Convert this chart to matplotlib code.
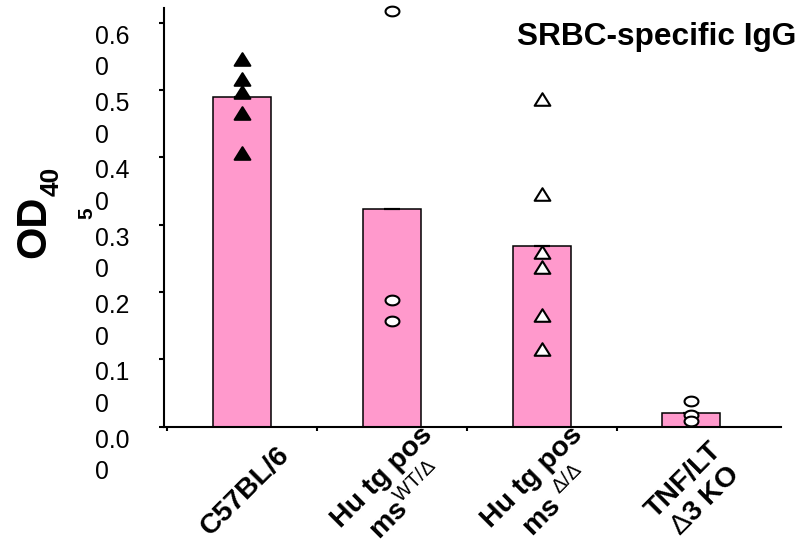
import numpy as np
import matplotlib
matplotlib.use("Agg")
import matplotlib.pyplot as plt
from matplotlib.path import Path
from matplotlib import transforms

plt.rcParams["font.family"] = ["Liberation Sans", "DejaVu Sans"]
plt.rcParams["mathtext.fontset"] = "custom"
plt.rcParams["mathtext.rm"] = "Liberation Sans"

# ---- data -------------------------------------------------------------
groups = ["C57BL/6",
          "Hu tg pos\nms$^{\\rm WT/\\Delta}$",
          "Hu tg pos\nms $^{\\rm \\Delta/\\Delta}$",
          "TNF/LT\n$\\rm\\Delta$3 KO"]
bar_means = [0.489, 0.324, 0.269, 0.020]
wt_points = [0.546, 0.517, 0.497, 0.466, 0.406]              # C57BL/6
het_points = [0.617, 0.188, 0.157]                          # Hu tg pos ms WT/Δ
hom_points = [0.487, 0.346, 0.259, 0.237, 0.166, 0.115]     # Hu tg pos ms Δ/Δ
ko_points = [0.0375, 0.018, 0.008]                          # TNF/LT Δ3 KO
ytick_vals = [0.0, 0.1, 0.2, 0.3, 0.4, 0.5, 0.6]
ytick_text = ["0.0\n0", "0.1\n0", "0.2\n0", "0.3\n0", "0.4\n0", "0.5\n0", "0.6\n0"]
title = "SRBC-specific IgG"

# ---- figure -----------------------------------------------------------
W, H = 802, 546
fig = plt.figure(figsize=(W / 100, H / 100), dpi=100)


def fx(px):
    return px / W


def fy(py):
    return 1 - py / H


ax_left, ax_right, ax_bottom, ax_top = 164.3, 780.7, 426.7, 8.3
ax = fig.add_axes([fx(ax_left), fy(ax_bottom),
                   (ax_right - ax_left) / W, (ax_bottom - ax_top) / H])

x = np.arange(len(groups))
ax.set_xlim(-0.519, 3.596)
ax.set_ylim(0, 0.6214)

pink = "#FF99CC"
ax.bar(x, bar_means, width=0.387, color=pink, edgecolor="black",
       linewidth=1.1, zorder=2)
ax.errorbar(x, bar_means, yerr=np.zeros(len(x)), fmt="none", ecolor="black",
            capsize=6, capthick=1.5, elinewidth=0, zorder=3)

# marker shapes: slightly flattened triangle and ellipse
tri = Path([(-1, -0.8), (1, -0.8), (0, 0.8), (-1, -0.8)],
           [Path.MOVETO, Path.LINETO, Path.LINETO, Path.CLOSEPOLY])
t = np.linspace(0, 2 * np.pi, 60)
ell = Path(np.column_stack([np.cos(t), 0.7 * np.sin(t)]), closed=True)

common = dict(linestyle="none", markeredgewidth=1.5, clip_on=False, zorder=4)
ax.plot([x[0]] * len(wt_points), wt_points, marker=tri, markersize=11.3,
        markerfacecolor="black", markeredgecolor="black", **common)
ax.plot([x[1]] * len(het_points), het_points, marker=ell, markersize=10,
        markerfacecolor="white", markeredgecolor="black", **common)
ax.plot([x[2]] * len(hom_points), hom_points, marker=tri, markersize=11.3,
        markerfacecolor="white", markeredgecolor="black", **common)
ax.plot([x[3]] * len(ko_points), ko_points, marker=ell, markersize=10,
        markerfacecolor="white", markeredgecolor="black", **common)

# axes styling
for side in ("top", "right"):
    ax.spines[side].set_visible(False)
for side in ("left", "bottom"):
    ax.spines[side].set_linewidth(1.5)

ax.set_yticks(ytick_vals)
ax.set_yticklabels(ytick_text, fontsize=17.8, va="top", ha="right",
                   multialignment="left", linespacing=1.4)
ax.tick_params(axis="y", direction="out", length=3.6, width=1.5, pad=21.4)
shift = transforms.ScaledTranslation(0, -2 / 100, fig.dpi_scale_trans)
for lab in ax.get_yticklabels():
    lab.set_transform(lab.get_transform() + shift)

ax.set_xticks(np.arange(len(groups)) - 0.5)
ax.set_xticklabels([])
ax.tick_params(axis="x", direction="out", length=3, width=1.5)

# category labels, rotated 45 degrees, block centred below each bar
lab_tr = transforms.blended_transform_factory(ax.transData, ax.transAxes)
off = transforms.ScaledTranslation(3 / 100, -64 / 100, fig.dpi_scale_trans)
for i, g in enumerate(groups):
    ax.text(x[i], 0, g, transform=lab_tr + off, rotation=45,
            rotation_mode="anchor", ha="center", va="center",
            multialignment="center", fontsize=20.5, fontweight="bold",
            linespacing=1.2)

# y-axis title: OD with subscript 40 and a detached 5
fig.text(fx(34), fy(226.5), "OD", rotation=90, fontsize=30, fontweight="bold",
         ha="center", va="center")
fig.text(fx(51.5), fy(181), "40", rotation=90, fontsize=19, fontweight="bold",
         ha="center", va="center")
fig.text(fx(87), fy(213), "5", rotation=90, fontsize=15, fontweight="bold",
         ha="center", va="center")

fig.text(fx(796), fy(45), title, fontsize=22.8, fontweight="bold",
         ha="right", va="baseline")

fig.savefig("out.png", dpi=100)
